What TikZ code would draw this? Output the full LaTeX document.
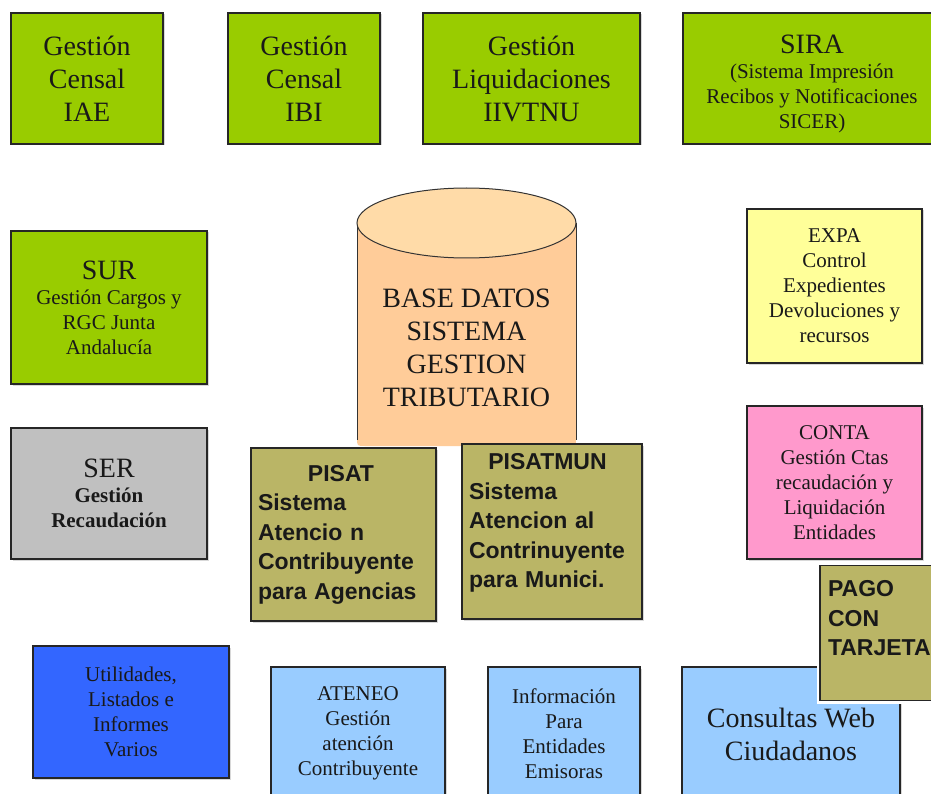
\documentclass[tikz,border=0pt]{standalone}
\usepackage{fontspec}
\setmainfont{LiberationSerif}[Extension=.ttf, UprightFont=*-Regular, BoldFont=*-Bold, ItalicFont=*-Italic, BoldItalicFont=*-BoldItalic]
\newfontfamily\sansfam{Liberation Sans}
\usetikzlibrary{shadows}
\definecolor{cgreen}{HTML}{99CC00}
\definecolor{cgray}{HTML}{C0C0C0}
\definecolor{colive}{HTML}{BAB566}
\definecolor{ccyl}{HTML}{FFCC99}
\definecolor{ccyltop}{HTML}{FFDBA8}
\definecolor{cyellow}{HTML}{FFFF99}
\definecolor{cpink}{HTML}{FF99CC}
\definecolor{cblue}{HTML}{3366FF}
\definecolor{clblue}{HTML}{99CCFF}
\newcommand\fsA{\fontsize{28}{33}\selectfont}
\newcommand\fsB{\fontsize{21}{25}\selectfont}
\newcommand\fsC{\sansfam\bfseries\fontsize{23}{29.5}\selectfont}
\begin{document}
\begin{tikzpicture}[x=1pt,y=-1pt,
  box/.style={draw=black!85, line width=1.2pt, align=center, inner sep=0pt, text=black!90,
    drop shadow={shadow xshift=1.5pt, shadow yshift=-1.5pt, opacity=0.3}},
  sz/.style 2 args={minimum width=#1pt, minimum height=#2pt},
  olivetext/.style={font=\fsC, align=left, text=black!90, inner sep=0pt}
]
\clip (0,0) rectangle (931,794);
\fill[white] (0,0) rectangle (931,794);

% top row
\node[box, fill=cgreen, sz={152}{131}, font=\fsA] (iae) at (87,78.5) {Gestión\\Censal\\IAE};
\node[box, fill=cgreen, sz={152}{131}, font=\fsA] (ibi) at (304,78.5) {Gestión\\Censal\\IBI};
\node[box, fill=cgreen, sz={217}{131}, font=\fsA] (iivtnu) at (531.5,78.5) {Gestión\\Liquidaciones\\IIVTNU};
\node[box, fill=cgreen, sz={258}{131}] (sira) at (812,78.5) {};
\node[font=\fsB, align=center, inner sep=0pt, text=black!90] (siratext) at (812,84)
  {{\fsA SIRA}\\(Sistema Impresión\\Recibos y Notificaciones\\SICER)};

% left column
\node[box, fill=cgreen, sz={196}{153}, font=\fsB] (sur) at (109,307.5) {{\fsA SUR}\\Gestión Cargos y\\RGC Junta\\Andalucía};
\node[box, fill=cgray, sz={196}{131}, font=\fsB] (ser) at (109,493.5) {{\fsA SER}\\\textbf{Gestión}\\\textbf{Recaudación}};

% database cylinder
\fill[ccyl] (357,223) -- (357,438) .. controls (357,446) .. (365,446) -- (568,446)
  .. controls (576,446) .. (576,438) -- (576,223) -- cycle;
\draw[black!80, line width=1pt] (357,223) -- (357,440);
\draw[black!80, line width=1pt] (576,223) -- (576,440);
\draw[black!80, line width=1pt, fill=ccyltop] (466.5,223) ellipse [x radius=109.5pt, y radius=35pt];
\node[font=\fsA, align=center, text=black!90] (db) at (466.5,347.5) {BASE DATOS\\SISTEMA\\GESTION\\TRIBUTARIO};

% olive boxes
\node[box, fill=colive, sz={185}{173}] (pisat) at (343.5,534.5) {};
\node[olivetext, text width=166pt] (pisattext) at (341,534.5)
  {\makebox[\linewidth]{PISAT}\\Sistema\\Atencio n\\Contribuyente\\para Agencias};
\node[box, fill=colive, sz={180}{175}] (pisatmun) at (552,531.5) {};
\node[olivetext, text width=157pt] (pisatmuntext) at (547.5,523)
  {\makebox[\linewidth]{PISATMUN}\\Sistema\\Atencion al\\Contrinuyente\\para Munici.};

% right column
\node[box, fill=cyellow, sz={175}{154}, font=\fsB] (expa) at (834.5,286) {EXPA\\Control\\Expedientes\\Devoluciones y\\recursos};
\node[box, fill=cpink, sz={175}{153}, font=\fsB] (conta) at (834.5,482.5) {CONTA\\Gestión Ctas\\recaudación y\\Liquidación\\Entidades};

% bottom row
\node[box, fill=cblue, sz={196}{132}, font=\fsB] (util) at (131,712) {Utilidades,\\Listados e\\Informes\\Varios};
\node[box, fill=clblue, sz={174}{133}, font=\fsB] (ateneo) at (358,733.5) {ATENEO\\Gestión\\atención\\Contribuyente};
\node[box, fill=clblue, sz={152}{133}, font=\fsB] (info) at (564,733.5) {Información\\Para\\Entidades\\Emisoras};
\node[box, fill=clblue, sz={218}{135}, font=\fsA] (web) at (791,734.5) {Consultas Web\\Ciudadanos};

% pago
\node[box, fill=colive, sz={130}{135}, font=\fsC, text width=114pt, align=left,
  preaction={draw=white, line width=6pt}] (pago) at (885,633) {PAGO\\CON\\TARJETA\\~};
\end{tikzpicture}
\end{document}
